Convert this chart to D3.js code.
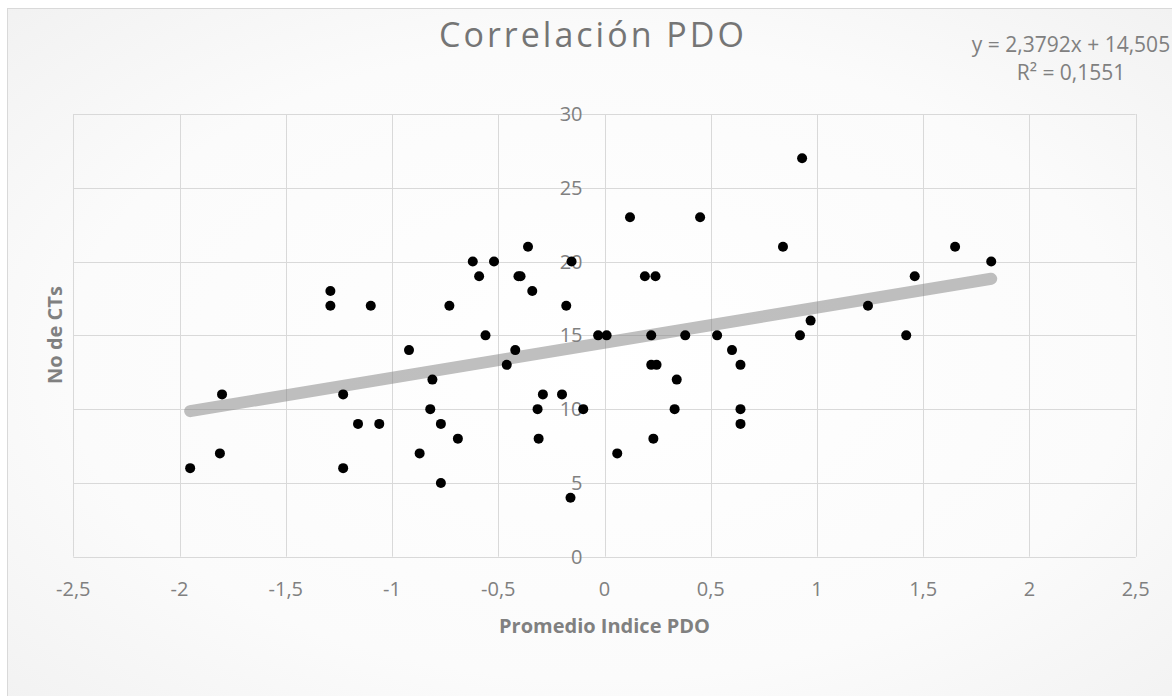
<!DOCTYPE html>
<html>
<head>
<meta charset="utf-8">
<script src="https://cdn.jsdelivr.net/npm/d3@7"></script>
<style>
  html, body { margin: 0; padding: 0; background: #ffffff; }
  svg { display: block; font-family: "Open Sans", "Noto Sans", sans-serif; }
</style>
</head>
<body>
<svg id="chart" width="1172" height="696"></svg>
<script>
// ---- data ----
const titleText = "Correlación PDO";
const xAxisTitle = "Promedio Indice PDO";
const yAxisTitle = "No de CTs";
const xTicks = [-2.5, -2, -1.5, -1, -0.5, 0, 0.5, 1, 1.5, 2, 2.5];
const yTicks = [0, 5, 10, 15, 20, 25, 30];
const xValues = [-1.95, -1.81, -1.80, -1.29, -1.29, -1.23, -1.23, -1.16, -1.10, -1.06,
  -0.92, -0.87, -0.82, -0.81, -0.77, -0.77, -0.73, -0.69, -0.62, -0.59,
  -0.56, -0.52, -0.46, -0.42, -0.405, -0.395, -0.36, -0.34, -0.315, -0.31,
  -0.29, -0.20, -0.18, -0.155, -0.16, -0.10, -0.03, 0.01, 0.06, 0.12,
  0.19, 0.24, 0.22, 0.22, 0.245, 0.23, 0.34, 0.33, 0.38, 0.45,
  0.53, 0.60, 0.64, 0.64, 0.64, 0.84, 0.92, 0.93, 0.97, 1.24,
  1.42, 1.46, 1.65, 1.82];
const yValues = [6, 7, 11, 18, 17, 11, 6, 9, 17, 9,
  14, 7, 10, 12, 9, 5, 17, 8, 20, 19,
  15, 20, 13, 14, 19, 19, 21, 18, 10, 8,
  11, 11, 17, 20, 4, 10, 15, 15, 7, 23,
  19, 19, 15, 13, 13, 8, 12, 10, 15, 23,
  15, 14, 13, 10, 9, 21, 15, 27, 16, 17,
  15, 19, 21, 20];
const trendSlope = 2.3792;
const trendIntercept = 14.505;
const equationLines = ["y = 2,3792x + 14,505", "R² = 0,1551"];

// ---- layout ----
const svg = d3.select("#chart");
const W = 1172, H = 696;
const fmt = v => String(v).replace(".", ",");

const defs = svg.append("defs");
const grad = defs.append("radialGradient").attr("id", "bg")
  .attr("cx", "50%").attr("cy", "50%").attr("r", "75%");
grad.append("stop").attr("offset", "0%").attr("stop-color", "#ffffff");
grad.append("stop").attr("offset", "60%").attr("stop-color", "#fbfbfb");
grad.append("stop").attr("offset", "100%").attr("stop-color", "#f0f0f0");

svg.append("rect").attr("x", 0).attr("y", 0).attr("width", W).attr("height", H).attr("fill", "#ffffff");
svg.append("rect").attr("x", 7.5).attr("y", 8.5).attr("width", W + 10).attr("height", H + 10)
  .attr("fill", "url(#bg)").attr("stroke", "#d9d9d9").attr("stroke-width", 1);

const x = d3.scaleLinear().domain([-2.5, 2.5]).range([73.3, 1135.7]);
const y = d3.scaleLinear().domain([0, 30]).range([556.7, 114]);

// gridlines
const grid = svg.append("g");
grid.selectAll("line.v").data(xTicks).join("line")
  .attr("x1", d => Math.round(x(d)) + 0.5).attr("x2", d => Math.round(x(d)) + 0.5)
  .attr("y1", y(30)).attr("y2", y(0))
  .attr("stroke", "#d9d9d9").attr("stroke-width", 1);
grid.selectAll("line.h").data(yTicks).join("line")
  .attr("x1", x(-2.5)).attr("x2", x(2.5))
  .attr("y1", d => Math.round(y(d)) + 0.5).attr("y2", d => Math.round(y(d)) + 0.5)
  .attr("stroke", "#d9d9d9").attr("stroke-width", 1);

// y tick labels (axis crosses at x = 0)
svg.append("g").selectAll("text").data(yTicks).join("text")
  .attr("x", x(0) - 22).attr("y", d => y(d))
  .attr("dy", "0.35em").attr("text-anchor", "end")
  .attr("font-size", 20).attr("fill", "#808080")
  .text(d => fmt(d));

// x tick labels
svg.append("g").selectAll("text").data(xTicks).join("text")
  .attr("x", d => x(d)).attr("y", 589)
  .attr("dy", "0.35em").attr("text-anchor", "middle")
  .attr("font-size", 20).attr("fill", "#808080")
  .text(d => fmt(d));

// axis titles
svg.append("text").attr("x", x(0)).attr("y", 626).attr("dy", "0.35em")
  .attr("text-anchor", "middle").attr("font-size", 20).attr("font-weight", "bold")
  .attr("fill", "#808080").text(xAxisTitle);
svg.append("text").attr("transform", "translate(55,335) rotate(-90)")
  .attr("dy", "0.35em").attr("text-anchor", "middle").attr("font-size", 20)
  .attr("font-weight", "bold").attr("fill", "#808080").text(yAxisTitle);

// title
svg.append("text").attr("x", 593).attr("y", 47).attr("text-anchor", "middle")
  .attr("font-size", 34).attr("letter-spacing", 3).attr("fill", "#757575")
  .text(titleText);

// equation
svg.append("g").selectAll("text").data(equationLines).join("text")
  .attr("x", 1071).attr("y", (d, i) => 45 + i * 28).attr("dy", "0.35em")
  .attr("text-anchor", "middle").attr("font-size", 21).attr("fill", "#808080")
  .text(d => d);

// trendline
const xMin = d3.min(xValues), xMax = d3.max(xValues);
svg.append("line")
  .attr("x1", x(xMin)).attr("y1", y(trendSlope * xMin + trendIntercept))
  .attr("x2", x(xMax)).attr("y2", y(trendSlope * xMax + trendIntercept))
  .attr("stroke", "#7f7f7f").attr("stroke-opacity", 0.5)
  .attr("stroke-width", 12).attr("stroke-linecap", "round");

// points
svg.append("g").selectAll("circle").data(xValues.map((v, i) => [v, yValues[i]])).join("circle")
  .attr("cx", d => x(d[0])).attr("cy", d => y(d[1])).attr("r", 5)
  .attr("fill", "#000000");
</script>
</body>
</html>
